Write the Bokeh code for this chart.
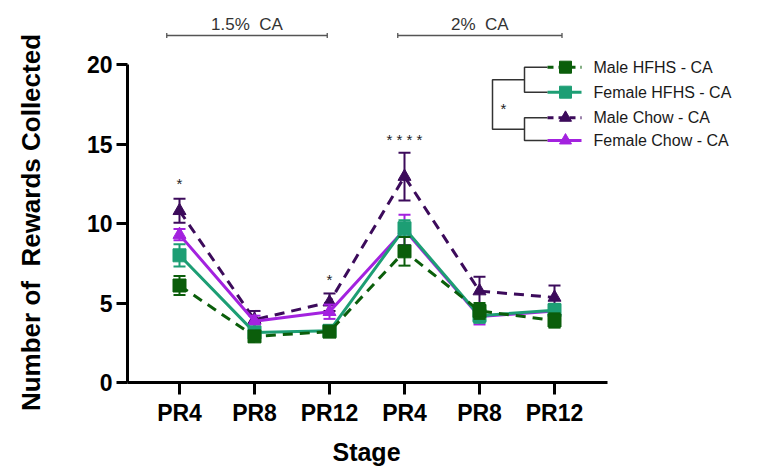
import numpy as np
from bokeh.plotting import figure
from bokeh.models import Range1d, FixedTicker
from bokeh.core.properties import value
from bokeh.embed import file_html
from bokeh.resources import INLINE

# ---------------- data ----------------
stages = ["PR4", "PR8", "PR12", "PR4", "PR8", "PR12"]
stage_pos = [1, 2, 3, 4, 5, 6]

male_hfhs = [6.1, 2.9, 3.2, 8.25, 4.5, 3.9]
male_hfhs_sem = [0.6, 0.25, 0.25, 0.9, 0.5, 0.45]
female_hfhs = [8.0, 3.15, 3.25, 9.7, 4.2, 4.55]
female_hfhs_sem = [0.7, 0.25, 0.25, 0.5, 0.45, 0.4]
male_chow = [10.8, 3.95, 5.05, 12.95, 5.75, 5.35]
male_chow_sem = [0.75, 0.55, 0.55, 1.5, 0.9, 0.75]
female_chow = [9.3, 3.85, 4.45, 9.6, 4.15, 4.5]
female_chow_sem = [0.35, 0.35, 0.45, 0.95, 0.5, 0.4]

series_names = ["Male HFHS - CA", "Female HFHS - CA", "Male Chow - CA", "Female Chow - CA"]

y_ticks = [0, 5, 10, 15, 20]

star_pos = [1, 3, 4]
star_y = [12.5, 6.5, 15.3]
star_text = ["*", "*", "* * * *"]

bracket_labels = ["1.5%\u00a0\u00a0CA", "2%\u00a0\u00a0CA"]
bracket_spans = [(0.83, 2.97), (3.91, 6.1)]

x_title = "Stage"
y_title = "Number of\u00a0\u00a0Rewards Collected"

# ---------------- layout (pixels) ----------------
W, H = 759, 468
X1_PAGE = 179.0      # page x of stage 1
PX_X = 75.0          # px per stage
Y0_PAGE = 382.0      # page y of value 0
PX_Y = 15.9          # px per unit

def xd(px):
    return 1 + (px - X1_PAGE) / PX_X

def yd(py):
    return (Y0_PAGE - py) / PX_Y

p = figure(width=W, height=H, output_backend="svg", toolbar_location=None,
           x_range=Range1d(xd(0), xd(W)), y_range=Range1d(yd(H), yd(0)),
           min_border=0, min_border_left=0, min_border_right=0,
           min_border_top=0, min_border_bottom=0)
p.outline_line_color = None
p.grid.visible = False
p.background_fill_color = "white"
p.border_fill_color = "white"

FONT = "Liberation Sans"

# axes placed inside the frame at fixed data locations
for ax in (p.xaxis[0], p.yaxis[0]):
    ax.axis_line_width = 3
    ax.axis_line_color = "black"
    ax.major_tick_line_width = 3
    ax.major_tick_line_color = "black"
    ax.major_tick_in = 0
    ax.minor_tick_line_color = None
    ax.major_label_text_font = FONT
    ax.major_label_text_font_style = "bold"
    ax.major_label_text_font_size = "23px"
    ax.major_label_text_color = "black"

p.xaxis[0].ticker = FixedTicker(ticks=stage_pos)
p.xaxis[0].major_label_overrides = {pos: lab for pos, lab in zip(stage_pos, stages)}
p.xaxis[0].bounds = (xd(127), xd(607))
p.xaxis[0].fixed_location = 0
p.xaxis[0].major_tick_out = 12
p.xaxis[0].major_label_standoff = 5

p.yaxis[0].ticker = FixedTicker(ticks=y_ticks)
p.yaxis[0].bounds = (0, 20)
p.yaxis[0].fixed_location = xd(127)
p.yaxis[0].major_tick_out = 11
p.yaxis[0].major_label_standoff = 4

# axis titles
p.text(x=[xd(30)], y=[yd(222)], text=[y_title], angle=np.pi / 2,
       text_align="center", text_baseline="middle", text_font=value(FONT),
       text_font_style="bold", text_font_size="26px", text_color="black")
p.text(x=[xd(366)], y=[yd(451)], text=[x_title], text_align="center",
       text_baseline="middle", text_font=value(FONT), text_font_style="bold",
       text_font_size="25px", text_color="black")

# ---------------- series ----------------
styles = [
    # name, values, sem, color, marker, dash
    ("Male Chow - CA", male_chow, male_chow_sem, "#3c0b5b", "triangle", "10 7"),
    ("Female Chow - CA", female_chow, female_chow_sem, "#a322df", "triangle", "solid"),
    ("Female HFHS - CA", female_hfhs, female_hfhs_sem, "#1d9e74", "square", "solid"),
    ("Male HFHS - CA", male_hfhs, male_hfhs_sem, "#0b5e0b", "square", "10 7"),
]

cap = 0.08
for name, vals, sem, col, mk, dash in styles:
    x = np.array(stage_pos, dtype=float)
    v = np.array(vals)
    s = np.array(sem)
    p.line(x, v, line_color=col, line_width=3, line_dash=dash)
    p.segment(x0=x, y0=v - s, x1=x, y1=v + s, line_color=col, line_width=2)
    p.segment(x0=x - cap, y0=v + s, x1=x + cap, y1=v + s, line_color=col, line_width=2)
    p.segment(x0=x - cap, y0=v - s, x1=x + cap, y1=v - s, line_color=col, line_width=2)
    p.scatter(x, v, marker=mk, size=13, fill_color=col, line_color=col)

# significance stars
p.text(x=star_pos, y=star_y, text=star_text, text_align="center", text_baseline="middle",
       text_font=value(FONT), text_font_size="15px", text_color="#222222")

# top brackets
for lab, (a, b) in zip(bracket_labels, bracket_spans):
    yl = yd(35)
    p.segment(x0=[a], y0=[yl], x1=[b], y1=[yl], line_color="#555555", line_width=1.3)
    p.segment(x0=[a, b], y0=[yd(32.5)] * 2, x1=[a, b], y1=[yd(37.5)] * 2,
              line_color="#555555", line_width=1.3)
    p.text(x=[(a + b) / 2], y=[yd(24)], text=[lab], text_align="center",
           text_baseline="middle", text_font=value(FONT), text_font_size="17px",
           text_color="#333333")

# ---------------- custom legend with dendrogram ----------------
leg_rows_page = [66.7, 91.7, 117.3, 140.0]
style_map = {s[0]: s for s in styles}
lx0, lx1, lxm, ltx = xd(547), xd(581), xd(565), xd(593)
for name, rp in zip(series_names, leg_rows_page):
    _, _, _, col, mk, dash = style_map[name]
    yy = yd(rp)
    p.line([lx0, lx1], [yy, yy], line_color=col, line_width=3,
           line_dash=("6 5" if dash != "solid" else "solid"))
    p.scatter([lxm], [yy], marker=mk, size=12, fill_color=col, line_color=col)
    p.text(x=[ltx], y=[yy], text=[name], text_align="left", text_baseline="middle",
           text_font=value(FONT), text_font_size="16px", text_color="#1a1a1a")

dcol = "#333333"
xi, xo = xd(524), xd(492)
ys = [yd(r) for r in leg_rows_page]
for a, b in [(ys[0], ys[1]), (ys[2], ys[3])]:
    p.line([lx0, xi, xi, lx0], [a, a, b, b], line_color=dcol, line_width=1.5)
mid1 = (ys[0] + ys[1]) / 2
mid2 = (ys[2] + ys[3]) / 2
p.line([xi, xo, xo, xi], [mid1, mid1, mid2, mid2], line_color=dcol, line_width=1.5)
p.text(x=[xd(503)], y=[yd(108)], text=["*"], text_align="center", text_baseline="middle",
       text_font=value(FONT), text_font_size="15px", text_color="#222222")

open("out.html", "w").write(file_html(p, INLINE))
